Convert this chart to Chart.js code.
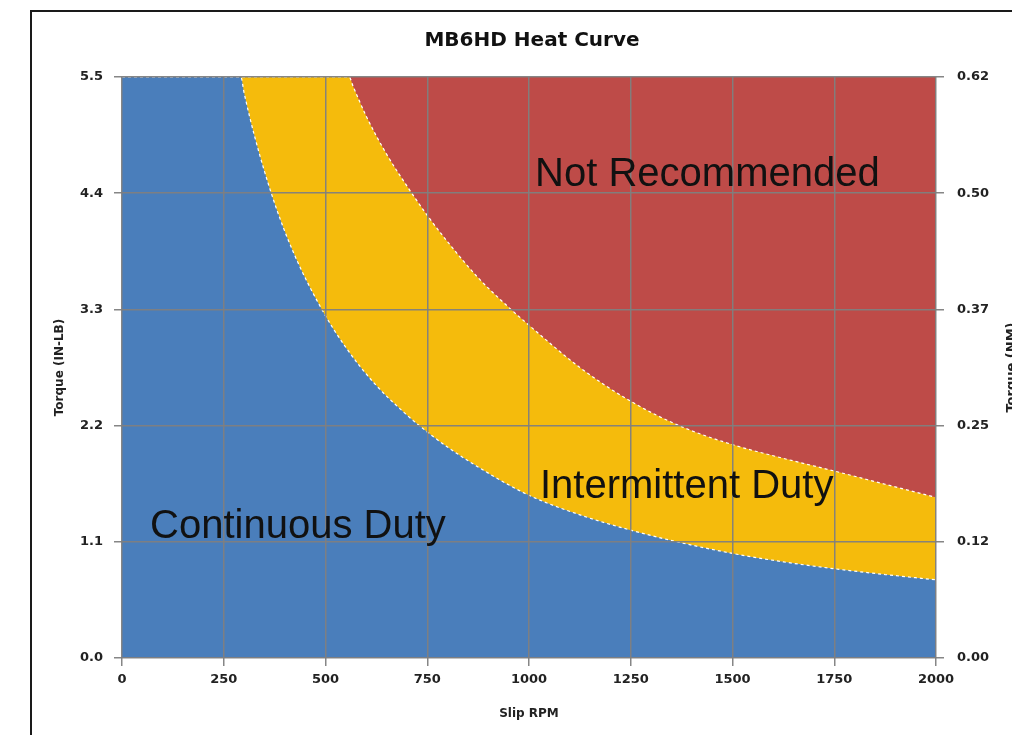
<!DOCTYPE html>
<html>
<head>
<meta charset="utf-8">
<title>MB6HD Heat Curve</title>
<script src="https://cdn.jsdelivr.net/npm/chart.js@4.4.0/dist/chart.umd.min.js"></script>
<style>
  html, body { margin: 0; padding: 0; background: #fff; overflow: hidden; }
  #wrap { position: relative; width: 1012px; height: 735px; }
  #frame {
    position: absolute; left: 30px; top: 10px; width: 2000px; height: 2000px;
    border-left: 2px solid #1a1a1a; border-top: 2px solid #1a1a1a; pointer-events: none;
  }
</style>
</head>
<body>
<div id="wrap">
  <canvas id="heat" width="1012" height="735"></canvas>
  <div id="frame"></div>
</div>
<script>
// Tick labels
const xTicks = [0, 250, 500, 750, 1000, 1250, 1500, 1750, 2000];
const yTicks = [0, 1.1, 2.2, 3.3, 4.4, 5.5];
const nmLabels = ['0.00', '0.12', '0.25', '0.37', '0.50', '0.62'];

// Continuous duty limit (IN-LB vs slip RPM)
const rpmCont = [0, 292, 300, 325, 371, 420, 491, 550, 620, 700, 750, 806, 900, 1000, 1125, 1250, 1375, 1500, 1625, 1750, 1875, 2000];
const torqueCont = [5.5, 5.5, 5.35, 4.95, 4.35, 3.85, 3.3, 2.94, 2.6, 2.3, 2.14, 1.98, 1.75, 1.54, 1.355, 1.21, 1.09, 0.99, 0.91, 0.845, 0.79, 0.74];

// Intermittent duty limit
const rpmInt = [0, 558, 568, 600, 650, 712, 750, 800, 875, 950, 1000, 1125, 1250, 1375, 1500, 1625, 1750, 1875, 2000];
const torqueInt = [5.5, 5.5, 5.41, 5.13, 4.77, 4.4, 4.19, 3.94, 3.6, 3.32, 3.15, 2.75, 2.43, 2.19, 2.02, 1.89, 1.77, 1.645, 1.52];

// Not recommended zone (up to top of chart)
const rpmRed = [0, 2000];
const torqueRed = [5.5, 5.5];

const zoneLabels = ['Not Recommended', 'Intermittent Duty', 'Continuous Duty'];

const toPoints = (xs, ys) => xs.map((x, i) => ({ x: x, y: ys[i] }));

const tickFont = { family: 'DejaVu Sans', size: 13, weight: 'bold' };
const gridColor = 'rgba(128,128,128,0.95)';

// zone text + right axis title (reads bottom to top like the left one)
const annotations = {
  id: 'annotations',
  afterDraw(chart) {
    const ctx = chart.ctx;
    const xs = chart.scales.x, ys = chart.scales.y;
    const spots = [[1015, 4.57], [1027, 1.62], [69, 1.24]];
    ctx.save();
    ctx.font = '40px "Liberation Sans", Arial, sans-serif';
    ctx.fillStyle = '#111';
    ctx.textBaseline = 'middle';
    ctx.textAlign = 'left';
    zoneLabels.forEach((t, i) => {
      ctx.fillText(t, xs.getPixelForValue(spots[i][0]), ys.getPixelForValue(spots[i][1]));
    });
    const a = chart.chartArea;
    ctx.font = 'bold 13px "DejaVu Sans"';
    ctx.fillStyle = '#222';
    ctx.translate(1012, (a.top + a.bottom) / 2);
    ctx.rotate(-Math.PI / 2);
    ctx.textAlign = 'center';
    ctx.fillText('Torque (NM)', 0, 0);
    ctx.restore();
  }
};

new Chart(document.getElementById('heat').getContext('2d'), {
  type: 'line',
  data: {
    datasets: [
      {
        label: 'Continuous Duty',
        data: toPoints(rpmCont, torqueCont),
        backgroundColor: '#4a7ebb',
        borderColor: '#ffffff',
        borderWidth: 1.2,
        borderDash: [3, 3],
        fill: 'origin',
        pointRadius: 0,
        cubicInterpolationMode: 'monotone',
        order: 1
      },
      {
        label: 'Intermittent Duty',
        data: toPoints(rpmInt, torqueInt),
        backgroundColor: '#f5bb0c',
        borderColor: '#ffffff',
        borderWidth: 1.2,
        borderDash: [3, 3],
        fill: 'origin',
        pointRadius: 0,
        cubicInterpolationMode: 'monotone',
        order: 2
      },
      {
        label: 'Not Recommended',
        data: toPoints(rpmRed, torqueRed),
        backgroundColor: '#be4b48',
        borderWidth: 0,
        fill: 'origin',
        pointRadius: 0,
        order: 3
      }
    ]
  },
  options: {
    responsive: false,
    animation: false,
    layout: { padding: { left: 52, right: 0, top: 0, bottom: 0 } },
    plugins: {
      legend: { display: false },
      tooltip: { enabled: false },
      title: {
        display: true,
        text: 'MB6HD Heat Curve',
        color: '#111',
        font: { family: 'DejaVu Sans', size: 20, weight: 'bold', lineHeight: 1.2 },
        padding: { top: 29, bottom: 24 }
      }
    },
    scales: {
      x: {
        type: 'linear',
        min: 0,
        max: 2000,
        afterBuildTicks: s => { s.ticks = xTicks.map(v => ({ value: v })); },
        afterFit: s => { s.height = 77; },
        ticks: { color: '#222', font: tickFont, padding: 6, maxRotation: 0, callback: v => String(v) },
        grid: { color: gridColor, lineWidth: 1.5, tickLength: 8, z: 1 },
        border: { display: false },
        title: {
          display: true,
          text: 'Slip RPM',
          color: '#222',
          font: { family: 'DejaVu Sans', size: 12, weight: 'bold', lineHeight: 1.2 },
          padding: { top: 0, bottom: 14 }
        }
      },
      y: {
        position: 'left',
        min: 0,
        max: 5.5,
        afterBuildTicks: s => { s.ticks = yTicks.map(v => ({ value: v })); },
        afterFit: s => { s.width = 70; },
        ticks: { color: '#222', font: tickFont, padding: 11, callback: v => v.toFixed(1) },
        grid: { color: gridColor, lineWidth: 1.5, tickLength: 8, z: 1 },
        border: { display: false },
        title: {
          display: true,
          text: 'Torque (IN-LB)',
          color: '#222',
          font: { family: 'DejaVu Sans', size: 12, weight: 'bold', lineHeight: 1.2 },
          padding: { top: 1, bottom: 0 }
        }
      },
      y2: {
        position: 'right',
        min: 0,
        max: 5.5,
        afterBuildTicks: s => { s.ticks = yTicks.map(v => ({ value: v })); },
        afterFit: s => { s.width = 76; },
        ticks: { color: '#222', font: tickFont, padding: 13, callback: (v, i) => nmLabels[i] },
        grid: { drawOnChartArea: false, color: gridColor, lineWidth: 1.5, tickLength: 8 },
        border: { display: false }
      }
    }
  },
  plugins: [annotations]
});
</script>
</body>
</html>
